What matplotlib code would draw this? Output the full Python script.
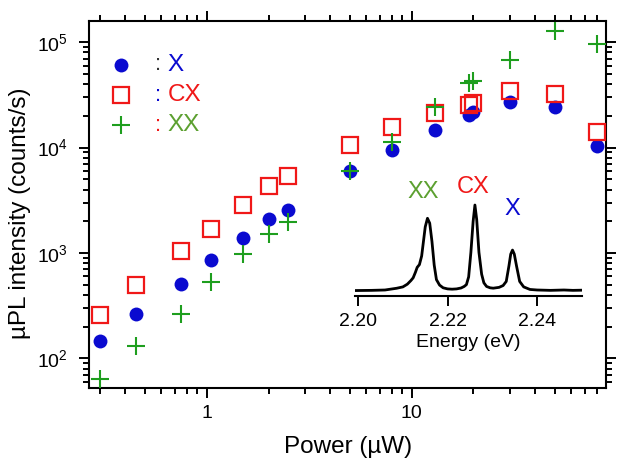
import matplotlib
matplotlib.use("Agg")
import matplotlib.pyplot as plt
from matplotlib.ticker import LogLocator, FixedLocator, NullFormatter, FixedFormatter

plt.rcParams['font.family'] = ['Liberation Sans', 'DejaVu Sans']
plt.rcParams['mathtext.fontset'] = 'custom'
plt.rcParams['mathtext.rm'] = 'Liberation Sans'
plt.rcParams['mathtext.it'] = 'Liberation Sans:italic'
plt.rcParams['mathtext.bf'] = 'Liberation Sans:bold'

# ---- data ----
power = [0.3, 0.45, 0.75, 1.05, 1.5, 2.0, 2.5, 5, 8, 13, 19, 20, 30, 50, 80]
x_int = [146, 266, 512, 853, 1400, 2090, 2550, 6010, 9440, 14620, 20300, 21830, 27200, 24370, 10300]
cx_int = [260, 493, 1045, 1680, 2840, 4330, 5380, 10540, 15740, 21400, 25300, 26250, 34360, 32100, 14090]
xx_int = [63.5, 130, 262, 531, 986, 1510, 1970, 6010, 11320, 24050, 41100, 42750, 67600, 128200, 95900]

energy = [2.1993, 2.2030, 2.2060, 2.2086, 2.2100, 2.2110, 2.2118, 2.2123, 2.2128, 2.2132,
          2.2137, 2.2142, 2.2146, 2.2150, 2.2155, 2.2160, 2.2165, 2.2170, 2.2175, 2.2182,
          2.2190, 2.2200, 2.2210, 2.2220, 2.2230, 2.2237, 2.2242, 2.2247, 2.2252, 2.2257,
          2.2261, 2.2265, 2.2270, 2.2276, 2.2281, 2.2287, 2.2295, 2.2302, 2.2315, 2.2324,
          2.2331, 2.2337, 2.2341, 2.2345, 2.2349, 2.2354, 2.2361, 2.2370, 2.2384, 2.2400,
          2.2430, 2.2460, 2.2480, 2.2501]
spectrum = [0.060, 0.062, 0.066, 0.085, 0.100, 0.130, 0.170, 0.200, 0.260, 0.315,
            0.345, 0.440, 0.600, 0.760, 0.854, 0.800, 0.600, 0.340, 0.180, 0.120,
            0.090, 0.078, 0.075, 0.078, 0.088, 0.105, 0.125, 0.210, 0.480, 0.820,
            1.000, 0.840, 0.480, 0.240, 0.145, 0.105, 0.090, 0.086, 0.095, 0.115,
            0.160, 0.330, 0.460, 0.505, 0.460, 0.330, 0.160, 0.100, 0.072, 0.066,
            0.062, 0.066, 0.062, 0.064]

y_ticks = [1e2, 1e3, 1e4, 1e5]
y_labels = [r'$\mathregular{10^{2}}$', r'$\mathregular{10^{3}}$',
            r'$\mathregular{10^{4}}$', r'$\mathregular{10^{5}}$']
x_ticks = [1, 10]
x_labels = ['1', '10']
inset_ticks = [2.20, 2.22, 2.24]
inset_labels = ['2.20', '2.22', '2.24']
legend_names = ['X', 'CX', 'XX']

blue = '#0a0ad0'
red = '#f01818'
green = '#1e9e1e'
olive = '#5ca030'

fig = plt.figure(figsize=(6.23, 4.62), dpi=100)
ax = fig.add_axes([0.1422, 0.1596, 0.8305, 0.7956])

ax.plot(power, x_int, 'o', color=blue, markersize=10, markeredgewidth=0, zorder=3)
ax.plot(power, cx_int, 's', markerfacecolor='none', markeredgecolor=red,
        markersize=11, markeredgewidth=1.6, zorder=4)
ax.plot(power, xx_int, '+', color=green, markersize=13, markeredgewidth=1.5, zorder=5)

ax.set_xscale('log')
ax.set_yscale('log')
ax.set_xlim(0.265, 88.6)
ax.set_ylim(52, 1.6e5)

ax.xaxis.set_major_locator(FixedLocator(x_ticks))
ax.xaxis.set_major_formatter(FixedFormatter(x_labels))
ax.xaxis.set_minor_locator(LogLocator(base=10, subs=range(2, 10), numticks=20))
ax.xaxis.set_minor_formatter(NullFormatter())
ax.yaxis.set_major_locator(FixedLocator(y_ticks))
ax.yaxis.set_major_formatter(FixedFormatter(y_labels))
ax.yaxis.set_minor_locator(LogLocator(base=10, subs=range(2, 10), numticks=20))
ax.yaxis.set_minor_formatter(NullFormatter())

for s in ax.spines.values():
    s.set_linewidth(1.5)
ax.tick_params(which='both', direction='out', top=True, right=True, width=1.4, colors='black')
ax.tick_params(which='major', length=7, labelsize=14)
ax.tick_params(which='minor', length=4)
ax.tick_params(axis='x', which='major', pad=5)
ax.tick_params(axis='y', which='major', pad=8)

ax.set_xlabel('Power (µW)', fontsize=17.5)
ax.xaxis.label.set_va('center')
ax.xaxis.set_label_coords(0.502, -0.16)
ax.set_ylabel('µPL intensity (counts/s)', fontsize=17.5)
ax.yaxis.label.set_va('center')
ax.yaxis.set_label_coords(-0.1335, 0.475)

# legend drawn manually
leg_y = [0.8795, 0.7978, 0.7162]
colon_colors = ['#333333', blue, red]
text_colors = [blue, red, olive]
ax.plot([0.0626], [leg_y[0]], 'o', color=blue, markersize=10, markeredgewidth=0,
        transform=ax.transAxes, clip_on=False)
ax.plot([0.0626], [leg_y[1]], 's', markerfacecolor='none', markeredgecolor=red,
        markersize=11, markeredgewidth=1.6, transform=ax.transAxes, clip_on=False)
ax.plot([0.0626], [leg_y[2]], '+', color=green, markersize=13, markeredgewidth=1.5,
        transform=ax.transAxes, clip_on=False)
for yy, cc, tc, name in zip(leg_y, colon_colors, text_colors, legend_names):
    ax.text(0.1336, yy, ':', color=cc, fontsize=16, ha='center', va='center',
            transform=ax.transAxes)
    ax.text(0.1525, yy, name, color=tc, fontsize=17.5, ha='left', va='center',
            transform=ax.transAxes)

# inset
ins = fig.add_axes([0.5698, 0.3593, 0.3649, 0.2186])
ins.patch.set_alpha(0)
ins.plot(energy, spectrum, color='black', linewidth=2.0)
ins.set_xlim(2.1993, 2.2501)
ins.set_ylim(0, 1.11)
for side in ['top', 'left', 'right']:
    ins.spines[side].set_visible(False)
ins.spines['bottom'].set_linewidth(1.5)
ins.set_yticks([])
ins.xaxis.set_major_locator(FixedLocator(inset_ticks))
ins.xaxis.set_major_formatter(FixedFormatter(inset_labels))
ins.tick_params(axis='x', direction='out', length=7, width=1.4, labelsize=14, pad=5)
ins.set_xlabel('Energy (eV)', fontsize=14, labelpad=3)
ins.text(2.2145, 1.146, 'XX', color=olive, fontsize=17, ha='center', va='center')
ins.text(2.2257, 1.195, 'CX', color=red, fontsize=17, ha='center', va='center')
ins.text(2.2345, 0.953, 'X', color=blue, fontsize=17, ha='center', va='center')

fig.savefig('out.png', dpi=100)
